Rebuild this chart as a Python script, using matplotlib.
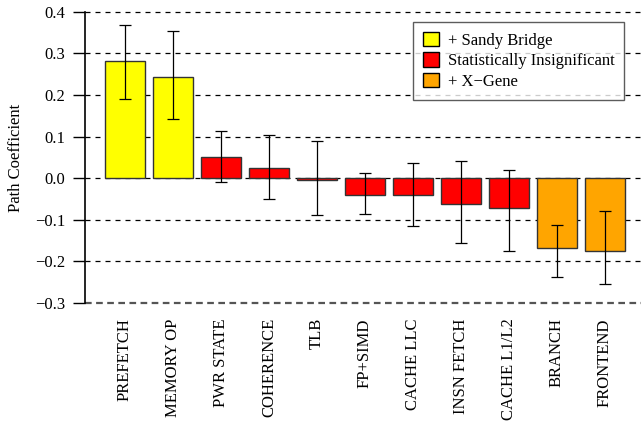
import numpy as np
import matplotlib
matplotlib.use("Agg")
import matplotlib.pyplot as plt
from matplotlib.patches import Patch

plt.rcParams['font.family'] = ['Liberation Serif', 'DejaVu Serif']

# data
labels = ["PREFETCH", "MEMORY OP", "PWR STATE", "COHERENCE", "TLB", "FP+SIMD",
          "CACHE LLC", "INSN FETCH", "CACHE L1/L2", "BRANCH", "FRONTEND"]
values = [0.282, 0.244, 0.052, 0.025, -0.005, -0.040, -0.040, -0.061, -0.071, -0.169, -0.174]
err_low = [0.191, 0.143, -0.008, -0.049, -0.088, -0.085, -0.114, -0.157, -0.174, -0.237, -0.254]
err_high = [0.369, 0.355, 0.114, 0.105, 0.090, 0.012, 0.037, 0.042, 0.020, -0.112, -0.078]
groups = [0, 0, 1, 1, 1, 1, 1, 1, 1, 2, 2]
group_names = ["+ Sandy Bridge", "Statistically Insignificant", "+ X\u2212Gene"]
group_colors = ["#ffff00", "#ff0000", "#ffa500"]
yticks = [-0.3, -0.2, -0.1, 0.0, 0.1, 0.2, 0.3, 0.4]
ytick_labels = ["\u22120.3", "\u22120.2", "\u22120.1", "0.0", "0.1", "0.2", "0.3", "0.4"]

x = np.arange(len(labels))
vals = np.array(values)
yerr = [vals - np.array(err_low), np.array(err_high) - vals]
cols = [group_colors[g] for g in groups]

fig = plt.figure(figsize=(6.41, 4.26), dpi=100)
ax = fig.add_axes([0.1326, 0.289, 0.8674, 0.683])

for yv in yticks:
    if yv == -0.3:
        ax.axhline(yv, color='#555555', lw=1.6, ls=(0, (3, 2)), zorder=0, clip_on=False)
    else:
        ax.axhline(yv, color='black', lw=0.9, ls=(0, (4, 4)), zorder=0, clip_on=False)

ax.bar(x, vals, width=0.83, color=cols, edgecolor='#333333', linewidth=1.0, zorder=2)
ax.errorbar(x, vals, yerr=yerr, fmt='none', ecolor='black', elinewidth=0.9,
            capsize=4.5, capthick=0.9, zorder=3)

ax.set_xlim(-0.83, 10.75)
ax.set_ylim(-0.3, 0.4)
ax.set_yticks(yticks)
ax.set_yticklabels(ytick_labels, fontsize=12)
ax.set_xticks(x)
ax.set_xticklabels(labels, rotation=90, fontsize=12)
ax.tick_params(axis='x', length=0, pad=11)
ax.tick_params(axis='y', length=9, width=1, direction='out', pad=5)
ax.set_ylabel("Path Coefficient", fontsize=12, labelpad=8)

for s in ['top', 'right', 'bottom']:
    ax.spines[s].set_visible(False)
ax.spines['left'].set_linewidth(1.2)

handles = [Patch(facecolor=c, edgecolor='black', label=n) for c, n in zip(group_colors, group_names)]
leg = ax.legend(handles=handles, loc='upper right', bbox_to_anchor=(0.97, 0.967),
                fontsize=12, frameon=True, fancybox=False, edgecolor='#333333',
                handlelength=1.0, handleheight=1.0, handletextpad=0.5, borderpad=0.6,
                labelspacing=0.2, borderaxespad=0)
leg.get_frame().set_linewidth(1.0)

fig.savefig("out.png", dpi=100)
